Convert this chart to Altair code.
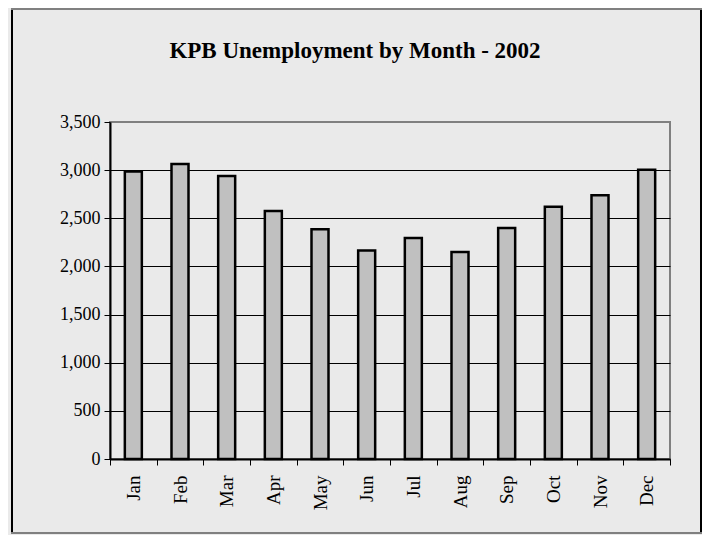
import altair as alt
import pandas as pd

months = ["Jan", "Feb", "Mar", "Apr", "May", "Jun", "Jul", "Aug", "Sep", "Oct", "Nov", "Dec"]
values = [2985, 3065, 2940, 2575, 2385, 2165, 2295, 2150, 2400, 2620, 2740, 3005]
y_ticks = [0, 500, 1000, 1500, 2000, 2500, 3000, 3500]
title_text = "KPB Unemployment by Month - 2002"

df = pd.DataFrame({"month": months, "value": values})
dummy = pd.DataFrame({"t": [title_text]})

FONT = "Liberation Serif"

bars = alt.Chart(df).mark_bar(
    fill="#c0c0c0", stroke="black", strokeWidth=2.5, size=17
).encode(
    x=alt.X(
        "month:N", sort=months, title=None,
        scale=alt.Scale(paddingInner=0, paddingOuter=0),
        axis=alt.Axis(
            labelAngle=270, tickBand="extent", tickSize=6, tickColor="black",
            tickWidth=1, domainColor="black", domainWidth=2, labelPadding=10,
            labelFont=FONT, labelFontSize=19, labelColor="black", grid=False,
        ),
    ),
    y=alt.Y(
        "value:Q", title=None,
        scale=alt.Scale(domain=[0, 3500], nice=False),
        axis=alt.Axis(
            values=y_ticks, format=",.0f", grid=True,
            gridColor={"condition": {"test": "datum.value === 3500", "value": "#808080"}, "value": "black"},
            gridWidth=1, tickSize=6, tickColor="black", tickWidth=1,
            domainColor="black", domainWidth=2, labelPadding=4,
            labelFont=FONT, labelFontSize=18, labelColor="black",
        ),
    ),
)

title = alt.Chart(dummy).mark_text(
    font=FONT, fontSize=23, fontWeight="bold", color="black",
    align="center", baseline="alphabetic",
).encode(text="t:N", x=alt.value(245), y=alt.value(-64))

# outer frame of the chart area
left_b = alt.Chart(dummy).mark_rule(color="black", strokeWidth=2).encode(
    x=alt.value(-98), y=alt.value(-114), y2=alt.value(412))
right_b = alt.Chart(dummy).mark_rule(color="black", strokeWidth=2).encode(
    x=alt.value(591), y=alt.value(-114), y2=alt.value(412))
top_b = alt.Chart(dummy).mark_rule(color="#808080", strokeWidth=2).encode(
    x=alt.value(-99), x2=alt.value(592), y=alt.value(-113))
bot_b = alt.Chart(dummy).mark_rule(color="#808080", strokeWidth=2).encode(
    x=alt.value(-99), x2=alt.value(592), y=alt.value(411))

chart = alt.layer(bars, title, left_b, right_b, top_b, bot_b).properties(
    width=560, height=337,
    autosize=alt.AutoSizeParams(type="none"),
    padding={"left": 102, "top": 114, "right": 32, "bottom": 76},
    background="#eaeaea",
).configure_view(stroke="#808080", strokeWidth=2)

chart.save("out.html", embed_options={"renderer": "svg", "actions": False})
